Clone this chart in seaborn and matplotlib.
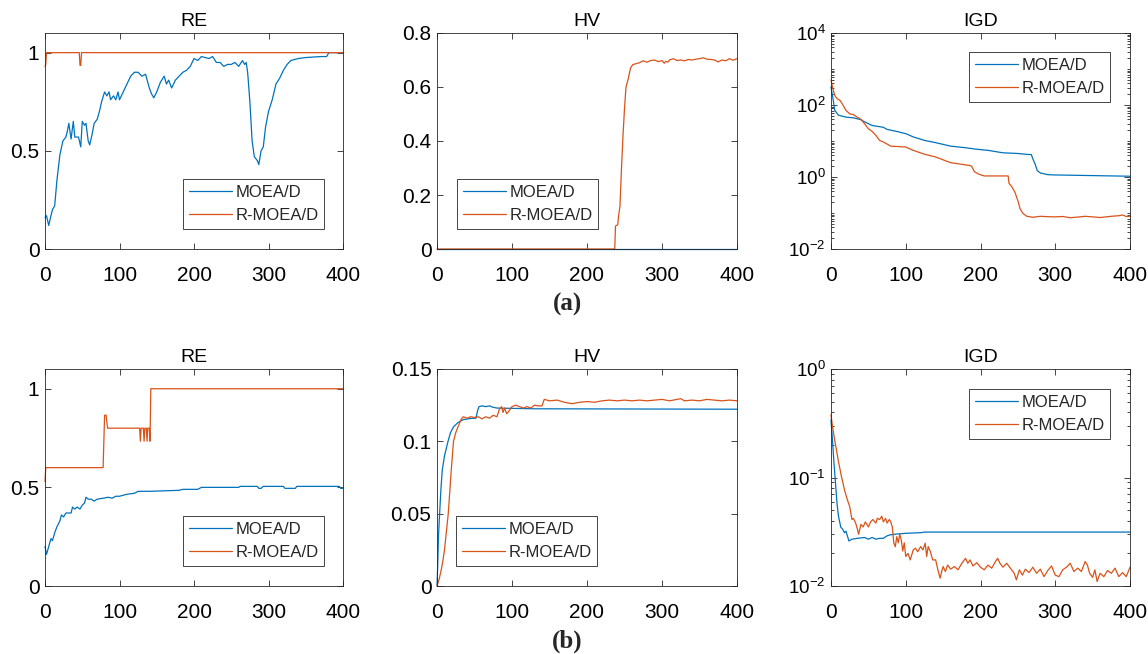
import matplotlib
matplotlib.use("Agg")
import matplotlib.pyplot as plt
import matplotlib.ticker as mticker
import numpy as np
import seaborn as sns

BLUE = "#0072BD"
ORANGE = "#D95319"
NAMES = ["MOEA/D", "R-MOEA/D"]
W, H = 1148, 654

# ---- (a) RE ----
a_re_moead_x = [0, 2, 5, 8, 10, 13, 16, 20, 24, 28, 30, 32, 35, 38, 40, 45, 48, 50, 53, 55,
                58, 60, 63, 66, 70, 73, 76, 80, 83, 86, 88, 92, 95, 98, 100, 105, 110, 115, 120, 125,
                130, 135, 140, 143, 146, 150, 155, 160, 163, 166, 170, 175, 180, 185, 190, 195, 200, 205, 210, 215,
                220, 225, 230, 235, 240, 245, 250, 255, 260, 265, 268, 270, 272, 275, 278, 281, 283, 285, 287, 290,
                293, 296, 300, 305, 310, 315, 320, 325, 330, 340, 350, 370, 378, 381, 400]
a_re_moead_y = [0.16, 0.17, 0.12, 0.17, 0.20, 0.22, 0.35, 0.48, 0.55, 0.57, 0.60, 0.64, 0.56, 0.65, 0.57, 0.57, 0.52, 0.65, 0.63, 0.64,
                0.55, 0.53, 0.58, 0.64, 0.66, 0.70, 0.75, 0.80, 0.78, 0.80, 0.76, 0.78, 0.76, 0.80, 0.76, 0.80, 0.84, 0.88, 0.90, 0.90,
                0.88, 0.89, 0.82, 0.79, 0.77, 0.80, 0.85, 0.88, 0.84, 0.86, 0.82, 0.86, 0.88, 0.90, 0.91, 0.93, 0.97, 0.96, 0.98, 0.975,
                0.97, 0.98, 0.95, 0.95, 0.93, 0.94, 0.94, 0.95, 0.93, 0.96, 0.94, 0.95, 0.90, 0.75, 0.55, 0.47, 0.46, 0.45, 0.43, 0.50,
                0.52, 0.62, 0.70, 0.76, 0.84, 0.87, 0.91, 0.94, 0.96, 0.97, 0.975, 0.98, 0.98, 1.00, 1.00]
a_re_rmoead_x = [0, 1, 2, 46, 47, 48, 49, 400]
a_re_rmoead_y = [0.93, 0.94, 1.0, 1.0, 0.935, 0.935, 1.0, 1.0]

# ---- (a) HV ----
a_hv_moead_x = [0, 400]
a_hv_moead_y = [0, 0]
a_hv_rmoead_x = [0, 237, 238, 241, 242, 244, 246, 248, 250, 252, 255, 258, 261, 265, 270, 275, 280, 285, 290, 295,
                 300, 303, 305, 308, 310, 315, 320, 325, 330, 335, 340, 345, 350, 355, 360, 365, 370, 375, 380, 385,
                 390, 395, 400]
a_hv_rmoead_y = [0, 0, 0.085, 0.09, 0.12, 0.16, 0.3, 0.42, 0.52, 0.6, 0.63, 0.67, 0.683, 0.686, 0.69, 0.697, 0.692, 0.698, 0.70, 0.694,
                 0.698, 0.688, 0.695, 0.692, 0.70, 0.705, 0.698, 0.70, 0.697, 0.702, 0.700, 0.703, 0.705, 0.708, 0.703, 0.702, 0.700, 0.693, 0.700, 0.697,
                 0.705, 0.699, 0.705]

# ---- (a) IGD ----
a_igd_moead_x = [0, 3, 5, 10, 20, 30, 40, 45, 55, 70, 75, 90, 100, 110, 125, 140, 160, 180, 195, 210,
                 230, 250, 265, 268, 270, 273, 276, 280, 290, 300, 400]
a_igd_moead_y = [320, 135, 71, 52, 46, 44, 39, 34, 27, 24, 21, 18, 16, 13, 10.4, 9, 7.2, 6.5, 5.9, 5.5,
                 4.7, 4.5, 4.2, 4.2, 3.2, 2.3, 1.5, 1.3, 1.16, 1.14, 1.05]
a_igd_rmoead_x = [0, 2, 5, 8, 12, 15, 20, 25, 30, 35, 40, 45, 50, 55, 60, 65, 70, 80, 100, 110,
                  125, 140, 150, 160, 175, 185, 188, 192, 198, 205, 237, 238, 242, 246, 250, 253, 257, 262, 270, 280,
                  290, 300, 310, 320, 330, 340, 350, 360, 375, 385, 390, 395, 400]
a_igd_rmoead_y = [500, 316, 185, 150, 135, 108, 71, 57, 54, 46, 40, 30, 22, 18.5, 14.4, 10.4, 9.4, 7.2, 6.8, 5.5,
                  4.3, 3.6, 3.0, 2.5, 2.25, 2.1, 2.0, 1.4, 1.19, 1.07, 1.07, 0.68, 0.53, 0.38, 0.22, 0.13, 0.096, 0.081, 0.076, 0.081,
                  0.079, 0.078, 0.080, 0.074, 0.077, 0.081, 0.078, 0.075, 0.081, 0.084, 0.088, 0.080, 0.081]

# ---- (b) RE ----
b_re_moead_x = [0, 2, 5, 8, 10, 13, 16, 20, 22, 25, 28, 32, 35, 37, 40, 43, 47, 50, 53, 55,
                58, 62, 66, 70, 78, 85, 90, 95, 100, 110, 120, 125, 140, 180, 185, 205, 210, 260, 262, 285,
                287, 290, 293, 320, 322, 336, 338, 395, 397, 400]
b_re_moead_y = [0.20, 0.16, 0.20, 0.24, 0.23, 0.27, 0.30, 0.33, 0.36, 0.35, 0.37, 0.37, 0.37, 0.40, 0.39, 0.40, 0.39, 0.41, 0.42, 0.45,
                0.44, 0.44, 0.43, 0.44, 0.445, 0.45, 0.445, 0.455, 0.455, 0.465, 0.47, 0.48, 0.48, 0.485, 0.49, 0.49, 0.50, 0.50, 0.505, 0.505,
                0.495, 0.495, 0.505, 0.505, 0.495, 0.495, 0.505, 0.505, 0.495, 0.495]
b_re_rmoead_x = [0, 1, 78, 80, 82, 84, 127, 128, 129, 132, 133, 134, 136, 137, 138, 140, 141, 142, 400]
b_re_rmoead_y = [0.53, 0.60, 0.60, 0.866, 0.866, 0.80, 0.80, 0.734, 0.80, 0.80, 0.734, 0.80, 0.80, 0.734, 0.80, 0.80, 0.734, 1.0, 1.0]

# ---- (b) HV ----
b_hv_moead_x = [0, 1, 2, 3.5, 5, 7, 10, 14.7, 18, 22, 28, 35, 45, 52, 54, 56, 60, 65, 70, 75, 80, 130, 400]
b_hv_moead_y = [0, 0.015, 0.035, 0.05, 0.065, 0.08, 0.09, 0.1, 0.106, 0.11, 0.113, 0.115, 0.1158, 0.116, 0.121,
                0.124, 0.1245, 0.124, 0.1245, 0.1235, 0.123, 0.1225, 0.1222]
b_hv_rmoead_x = [0, 3, 6, 8, 10, 12, 15, 17, 19, 22, 25, 28, 32, 35, 40, 45, 50, 55, 60, 65,
                 70, 75, 80, 83, 86, 88, 90, 93, 96, 100, 105, 110, 115, 120, 125, 130, 135, 140, 143, 150,
                 160, 170, 180, 190, 200, 210, 220, 230, 240, 250, 260, 270, 280, 290, 300, 310, 320, 325, 330, 340,
                 350, 360, 370, 380, 390, 400]
b_hv_rmoead_y = [0, 0.005, 0.012, 0.018, 0.025, 0.035, 0.05, 0.065, 0.08, 0.1, 0.106, 0.11, 0.115, 0.117, 0.116, 0.117, 0.1165, 0.117, 0.1155, 0.117,
                 0.116, 0.118, 0.117, 0.122, 0.124, 0.12, 0.123, 0.119, 0.121, 0.124, 0.125, 0.124, 0.123, 0.124, 0.123, 0.125, 0.1245, 0.1245, 0.129, 0.128,
                 0.1285, 0.127, 0.126, 0.127, 0.1275, 0.127, 0.128, 0.1285, 0.128, 0.1285, 0.128, 0.1285, 0.128, 0.1285, 0.129, 0.128, 0.129, 0.1295, 0.128, 0.1285,
                 0.128, 0.129, 0.1285, 0.128, 0.1285, 0.128]

# ---- (b) IGD ----
b_igd_moead_x = [0, 2, 4, 6, 8, 10, 13, 16, 18, 20, 24, 28, 35, 45, 50, 55, 60, 65, 70, 75,
                 80, 90, 100, 120, 125, 400]
b_igd_moead_y = [0.34, 0.22, 0.135, 0.089, 0.058, 0.044, 0.035, 0.033, 0.031, 0.032, 0.026, 0.027, 0.0275, 0.028, 0.027, 0.028, 0.027, 0.0275, 0.0275, 0.029,
                 0.0297, 0.0302, 0.0306, 0.031, 0.0314, 0.0314]
b_igd_rmoead_x = [0, 2, 5, 8, 10, 14, 18, 22, 25, 28, 30, 33, 35, 37, 40, 43, 46, 50, 53, 56,
                  60, 62, 65, 68, 70, 73, 75, 78, 80, 82, 84, 86, 88, 90, 92, 94, 96, 98, 100, 103,
                  106, 110, 113, 116, 120, 123, 126, 128, 130, 133, 136, 140, 143, 146, 148, 150, 153, 156, 160, 165,
                  170, 175, 180, 183, 186, 190, 195, 200, 205, 210, 215, 220, 223, 226, 230, 235, 240, 245, 248, 252,
                  256, 260, 265, 270, 275, 280, 285, 290, 295, 300, 305, 310, 315, 320, 325, 330, 335, 340, 343, 346,
                  350, 353, 356, 360, 365, 370, 375, 380, 385, 390, 395, 400]
b_igd_rmoead_y = [0.38, 0.295, 0.22, 0.168, 0.14, 0.102, 0.077, 0.062, 0.054, 0.041, 0.042, 0.038, 0.034, 0.030, 0.037, 0.035, 0.039, 0.035, 0.039, 0.041,
                  0.038, 0.042, 0.041, 0.044, 0.039, 0.042, 0.038, 0.041, 0.039, 0.035, 0.025, 0.023, 0.0285, 0.025, 0.030, 0.0266, 0.021, 0.025, 0.0187, 0.020,
                  0.0174, 0.0215, 0.0223, 0.0207, 0.0231, 0.0215, 0.0248, 0.0187, 0.0231, 0.0207, 0.0174, 0.0174, 0.0141, 0.0118, 0.0136, 0.0151, 0.0136, 0.0156, 0.0143, 0.0151,
                  0.0141, 0.0162, 0.018, 0.0162, 0.0174, 0.0153, 0.0164, 0.0149, 0.0141, 0.0156, 0.0146, 0.0168, 0.018, 0.0162, 0.0149, 0.0162, 0.0146, 0.0131, 0.0114, 0.0141,
                  0.0126, 0.0143, 0.0133, 0.0149, 0.0131, 0.0143, 0.0122, 0.0139, 0.0153, 0.0126, 0.0122, 0.0141, 0.0149, 0.0162, 0.0136, 0.0146, 0.0136, 0.0168, 0.0156, 0.0131,
                  0.012, 0.0141, 0.011, 0.0131, 0.0122, 0.0139, 0.0131, 0.0146, 0.0122, 0.0133, 0.0122, 0.0149]

sns.set_theme(style="white")
plt.rcParams["font.family"] = ["Liberation Sans", "DejaVu Sans"]
plt.rcParams["mathtext.fontset"] = "custom"
plt.rcParams["mathtext.rm"] = "Liberation Sans"
plt.rcParams["mathtext.it"] = "Liberation Sans:italic"

fig = plt.figure(figsize=(W / 100, H / 100), dpi=100)


def px_axes(left, top, right, bottom):
    return fig.add_axes([left / W, 1 - bottom / H, (right - left) / W, (bottom - top) / H])


def draw(ax, blue, orange, title, leg_xy, ylim, yticks=None, log=False):
    sns.lineplot(x=blue[0], y=blue[1], ax=ax, color=BLUE, linewidth=0.9, label=NAMES[0],
                 estimator=None, sort=False, clip_on=False)
    sns.lineplot(x=orange[0], y=orange[1], ax=ax, color=ORANGE, linewidth=0.9, label=NAMES[1],
                 estimator=None, sort=False, clip_on=False)
    ax.set_xlim(0, 400)
    ax.set_xticks([0, 100, 200, 300, 400])
    if log:
        ax.set_yscale("log")
        ax.set_ylim(*ylim)
        ax.yaxis.set_major_locator(mticker.FixedLocator(yticks))
        ax.yaxis.set_major_formatter(mticker.LogFormatterMathtext())
        ax.yaxis.set_minor_locator(mticker.LogLocator(base=10, subs=np.arange(1, 10), numticks=100))
        ax.yaxis.set_minor_formatter(mticker.NullFormatter())
    else:
        ax.set_ylim(*ylim)
        ax.set_yticks(yticks)
        ax.yaxis.set_major_formatter(mticker.FuncFormatter(lambda v, p: f"{v:g}"))
    ax.set_xlabel("")
    ax.set_ylabel("")
    ax.set_title(title, fontsize=14, pad=5, color="black")
    for s in ax.spines.values():
        s.set_color("#262626")
        s.set_linewidth(0.6)
        s.set_visible(True)
    ax.tick_params(which="both", direction="in", top=True, right=True, bottom=True, left=True,
                   color="#262626", labelcolor="black", width=0.6)
    ax.tick_params(which="major", length=4)
    ax.tick_params(which="minor", length=2)
    ax.tick_params(axis="x", labelsize=15, pad=12)
    ax.tick_params(axis="y", labelsize=13.5 if log else 15, pad=4)
    leg = ax.legend(loc="upper left", bbox_to_anchor=(leg_xy[0] / W, 1 - leg_xy[1] / H),
                    bbox_transform=fig.transFigure, fontsize=12, frameon=True, fancybox=False,
                    edgecolor="#262626", facecolor="white", framealpha=1, borderpad=0.35,
                    labelspacing=0.5, handlelength=2.6, handletextpad=0.2, borderaxespad=0)
    leg.get_frame().set_linewidth(0.6)


# row (a)
ax = px_axes(45, 33, 343, 249)
draw(ax, (a_re_moead_x, a_re_moead_y), (a_re_rmoead_x, a_re_rmoead_y), "RE", (183, 179), (0, 1.1), [0, 0.5, 1])
ax = px_axes(437, 33, 737, 249)
draw(ax, (a_hv_moead_x, a_hv_moead_y), (a_hv_rmoead_x, a_hv_rmoead_y), "HV", (457, 179), (0, 0.8),
     [0, 0.2, 0.4, 0.6, 0.8])
ax = px_axes(831, 33, 1130, 249)
draw(ax, (a_igd_moead_x, a_igd_moead_y), (a_igd_rmoead_x, a_igd_rmoead_y), "IGD", (969, 52), (1e-2, 1e4),
     [1e-2, 1e0, 1e2, 1e4], log=True)

# row (b)
ax = px_axes(45, 369, 343, 586)
draw(ax, (b_re_moead_x, b_re_moead_y), (b_re_rmoead_x, b_re_rmoead_y), "RE", (183, 516), (0, 1.1), [0, 0.5, 1])
ax = px_axes(437, 369, 737, 586)
draw(ax, (b_hv_moead_x, b_hv_moead_y), (b_hv_rmoead_x, b_hv_rmoead_y), "HV", (456, 516), (0, 0.15),
     [0, 0.05, 0.1, 0.15])
ax = px_axes(831, 369, 1130, 586)
draw(ax, (b_igd_moead_x, b_igd_moead_y), (b_igd_rmoead_x, b_igd_rmoead_y), "IGD", (969, 389), (1e-2, 1e0),
     [1e-2, 1e-1, 1e0], log=True)

for label, y in [("(a)", 304), ("(b)", 641)]:
    fig.text(567 / W, 1 - y / H, label, ha="center", va="center", fontsize=18,
             fontweight="bold", family=["Liberation Serif", "DejaVu Serif"])

fig.savefig("out.png", dpi=100)
